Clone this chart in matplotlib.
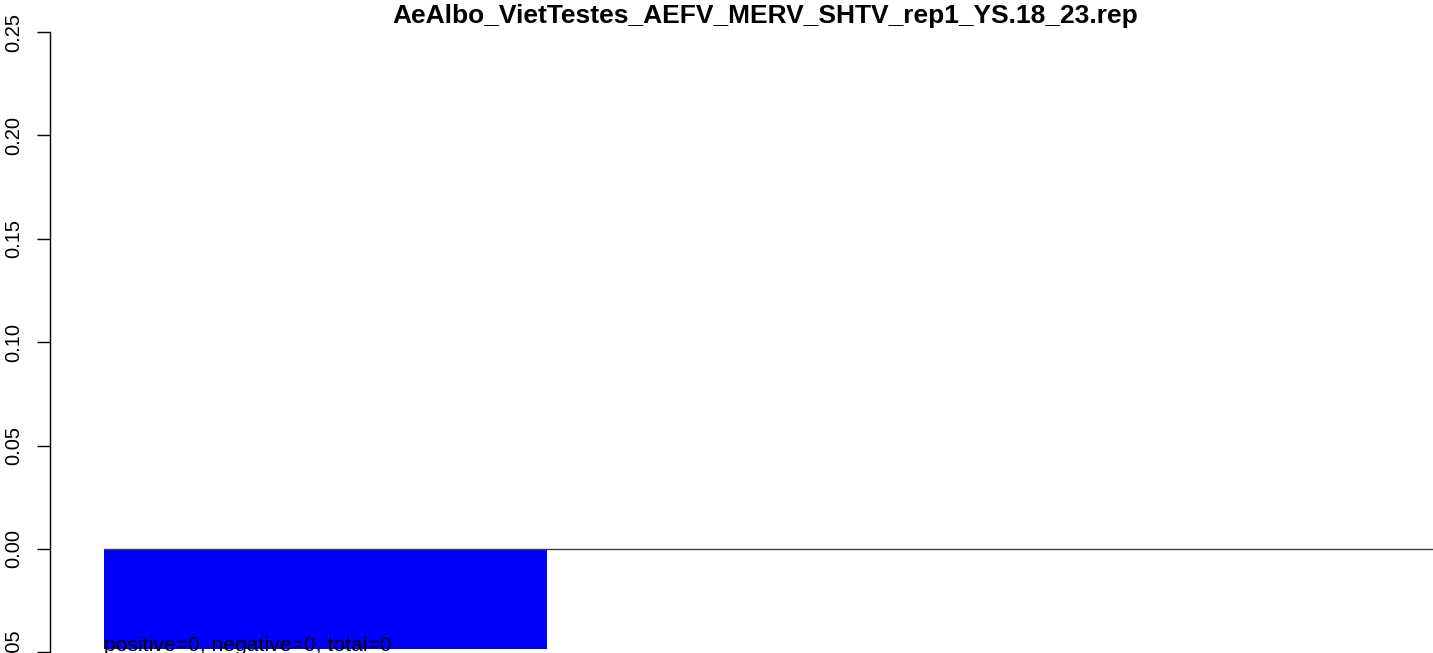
import matplotlib
matplotlib.use("Agg")
import matplotlib.pyplot as plt

title = "AeAlbo_VietTestes_AEFV_MERV_SHTV_rep1_YS.18_23.rep"
bar_values = [-0.0485]
bar_color = "#0000FF"
yticks = [-0.05, 0.00, 0.05, 0.10, 0.15, 0.20, 0.25]
ytick_labels = ["-0.05", "0.00", "0.05", "0.10", "0.15", "0.20", "0.25"]
note = "positive=0, negative=0, total=0"

plt.rcParams['font.family'] = ['Liberation Sans', 'DejaVu Sans']

W, H = 1433, 653
fig = plt.figure(figsize=(W/100, H/100), dpi=100)
ax = fig.add_axes([50/W, 0, 1 - 50/W, (653-32)/H])
ax.set_ylim(-0.0503, 0.25)
ax.set_xlim(-0.122, 3.0)

ax.bar(range(len(bar_values)), bar_values, width=1.0, align='edge', color=bar_color, linewidth=0)
ax.axhline(0, xmin=0.122/3.122, xmax=1, color='#404040', linewidth=1)

for s in ['top', 'right', 'bottom']:
    ax.spines[s].set_visible(False)
ax.spines['left'].set_bounds(-0.05, 0.25)
ax.spines['left'].set_linewidth(1)
ax.set_xticks([])
ax.set_yticks(yticks)
ax.set_yticklabels(ytick_labels, rotation=90, va='center', fontsize=14.5)
ax.tick_params(axis='y', length=9.4, width=1, pad=10)

ax.text(0, -0.0495, note, fontsize=15.2, ha='left', va='baseline', color='black')
fig.text(765/W, 1 - 23.5/H, title, fontsize=19, fontweight='bold', ha='center', va='baseline')

fig.savefig("out.png", dpi=100)
